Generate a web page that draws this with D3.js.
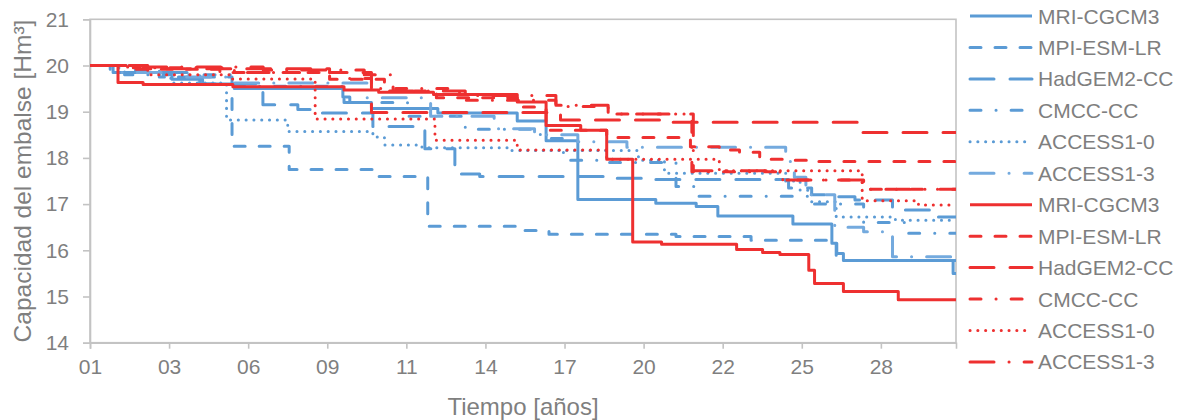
<!DOCTYPE html>
<html><head><meta charset="utf-8">
<script src="https://cdn.jsdelivr.net/npm/d3@7"></script>
<style>
body{margin:0;background:#fff}
text{font-family:"Liberation Sans",Arial,Helvetica,sans-serif;fill:#7f7f7f}
</style>
</head><body>
<svg id="chart" width="1199" height="420"></svg>
<script>
// ---- data (years since start, capacity Hm3) ----
const seriesNames = ["MRI-CGCM3","MPI-ESM-LR","HadGEM2-CC","CMCC-CC","ACCESS1-0","ACCESS1-3"];
const xTickLabels = ["01","03","06","09","11","14","17","20","22","25","28"];
const yTickValues = [14,15,16,17,18,19,20,21];
const xTitle = "Tiempo [años]";
const yTitle = "Capacidad del embalse [Hm³]";

const mriBlue = [[0,20],[0.8,19.85],[2.84,19.7],[3.9,19.6],[5.0,19.5],[8.76,19.32],[9.0,19.2],[9.75,19.07],[12.05,18.97],[14.8,18.8],[15.8,18.37],[16.9,17.1],[19.6,17.02],[21.0,16.95],[21.75,16.74],[24.35,16.57],[25.7,16.15],[25.87,15.93],[26.1,15.78],[29.9,15.5]];
const mpiBlue = [[0,20],[1.4,19.9],[2.4,19.75],[4.92,18.25],[6.9,17.75],[9.9,17.6],[11.7,16.52],[14.9,16.43],[15.9,16.35],[20.3,16.3],[22.9,16.22],[25.85,15.78]];
const hadBlue = [[0,20],[0.7,19.85],[3.8,19.6],[5.99,19.15],[7.2,19.05],[7.69,18.97],[9.8,18.68],[11.6,18.2],[12.64,17.65],[13.5,17.6],[18.0,17.56],[19.4,17.53],[24.2,17.35],[25.0,17.2],[25.7,17.16],[26.5,17.09],[27.8,16.87],[29.1,16.72]];
const cmccBlue = [[0,20],[1.2,19.8],[5.0,19.55],[8.8,19.2],[11.0,18.9],[13.0,18.62],[15.6,18.42],[16.4,17.95],[18.0,17.9],[20.3,17.38],[21.0,17.17],[25.0,17.0],[26.8,16.6],[28.3,16.37]];
const acc0Blue = [[0,20],[1.0,19.85],[2.8,19.62],[4.73,18.82],[6.85,18.57],[9.8,18.45],[10.2,18.28],[11.5,18.22],[14.5,18.16],[19.0,17.95],[19.9,17.67],[24.1,17.5],[24.6,17.3],[25.0,17.05],[25.85,16.72],[27.9,16.65]];
const acc3Blue = [[0,20],[1.0,19.85],[2.9,19.75],[4.9,19.62],[9.6,19.3],[11.8,18.9],[14.0,18.63],[15.4,18.5],[16.9,18.35],[18.6,18.23],[24.1,17.92],[24.4,17.58],[24.8,17.2],[25.8,16.5],[26.8,16.4],[27.8,15.86]];

const mriRed = [[0,20],[0.97,19.63],[1.84,19.59],[4.95,19.54],[8.8,19.47],[10.0,19.42],[11.9,19.37],[14.8,19.21],[15.8,18.7],[17.0,18.6],[17.9,17.97],[18.8,16.18],[19.8,16.13],[22.4,16.02],[23.3,15.95],[23.9,15.91],[24.9,15.57],[25.1,15.28],[26.1,15.11],[28.0,14.93]];
const mpiRed = [[0,20],[1.5,19.92],[4.5,19.85],[8.3,19.7],[10.2,19.45],[12.0,19.3],[14.8,19.1],[15.8,18.6],[17.9,18.44],[20.8,18.24],[21.8,18.17],[22.5,18.12],[23.2,17.97],[24.0,17.95],[24.9,17.92]];
const hadRed = [[0,20],[2.0,19.93],[8.3,19.85],[9.75,18.98],[16.3,18.82],[19.9,18.77],[26.6,18.55]];
const cmccRed = [[0,20],[1.5,19.95],[5.0,19.85],[8.7,19.72],[9.75,19.5],[12.8,19.25],[16.14,19.11],[17.95,18.95],[20.85,17.7],[24.0,17.52],[26.75,17.32]];
const acc0Red = [[0,20],[1.6,19.97],[2.0,19.8],[4.9,19.71],[7.8,18.84],[11.95,18.38],[14.8,18.17],[17.9,17.97],[21.8,17.72],[26.75,17.07],[28.7,16.98]];
const acc3Red = [[0,20],[1.3,19.97],[6.0,19.9],[9.5,19.8],[10.5,19.45],[13.0,19.35],[16.14,19.14],[17.95,18.95],[20.9,17.72],[23.9,17.52],[26.8,17.32]];

const blueSeries = [mriBlue, mpiBlue, hadBlue, cmccBlue, acc0Blue, acc3Blue];
const redSeries = [mriRed, mpiRed, hadRed, cmccRed, acc0Red, acc3Red];

// ---- styles ----
const dashes = [null, "11,14", "24,16", "11,15,0.1,15", "0.1,7.7", "24,15,0.1,15"];
const blueColors = ["#5b9bd5","#5b9bd5","#5b9bd5","#5b9bd5","#5b9bd5","#74aade"];
const redColor = "#ee3030";

const svg = d3.select("#chart");
const x = d3.scaleLinear().domain([0, 30]).range([90, 956]);
const y = d3.scaleLinear().domain([14, 21]).range([342.7, 19.3]);
const axisColor = "#c3c3c3";
const fontFam = '"Liberation Sans",Arial,sans-serif';

// plot border
svg.append("rect").attr("x", x(0)).attr("y", y(21)).attr("width", x(30)-x(0)).attr("height", y(14)-y(21))
  .attr("fill","none").attr("stroke", axisColor).attr("stroke-width", 1.6);

// x axis
const xTickVals = xTickLabels.map((d,i) => i*1000/365);
const xAxis = d3.axisBottom(x).tickValues(xTickVals).tickFormat((d,i)=>xTickLabels[i]).tickSize(6).tickPadding(10);
const gx = svg.append("g").attr("transform", `translate(0,${y(14)})`).call(xAxis);
gx.select(".domain").attr("stroke", axisColor).attr("stroke-width",1.6);
gx.selectAll(".tick line").attr("stroke", axisColor).attr("stroke-width",1.6);
gx.selectAll(".tick text").style("font-size","21px").attr("fill","#7f7f7f").style("font-family",fontFam);

// y axis
const yAxis = d3.axisLeft(y).tickValues(yTickValues).tickFormat(d3.format("d")).tickSize(7).tickPadding(14);
const gy = svg.append("g").attr("transform", `translate(${x(0)},0)`).call(yAxis);
gy.select(".domain").attr("stroke", axisColor).attr("stroke-width",1.6);
gy.selectAll(".tick line").attr("stroke", axisColor).attr("stroke-width",1.6);
gy.selectAll(".tick text").style("font-size","21px").attr("fill","#7f7f7f").style("font-family",fontFam);

// titles
svg.append("text").attr("x", (x(0)+x(30))/2).attr("y", 415).attr("text-anchor","middle")
  .style("font-size","24px").text(xTitle);
svg.append("text").attr("transform", `translate(31,${(y(14)+y(21))/2}) rotate(-90)`).attr("text-anchor","middle")
  .style("font-size","24.5px").text(yTitle);

// clip
svg.append("clipPath").attr("id","clip").append("rect")
  .attr("x", x(0)).attr("y", y(21)).attr("width", x(30)-x(0)).attr("height", y(14)-y(21));

const line = d3.line().x(d=>x(d[0])).y(d=>y(d[1])).curve(d3.curveStepAfter);
const extend = s => s.concat([[30, s[s.length-1][1]]]);

const gLines = svg.append("g").attr("clip-path","url(#clip)");
function drawSeries(data, color, dash){
  gLines.append("path").datum(extend(data)).attr("d", line)
    .attr("fill","none").attr("stroke", color).attr("stroke-width", 3)
    .attr("stroke-linecap", dash ? "round" : "butt").attr("stroke-linejoin","round")
    .attr("stroke-dasharray", dash);
}
blueSeries.forEach((s,i)=>drawSeries(s, blueColors[i], dashes[i]));
redSeries.forEach((s,i)=>drawSeries(s, redColor, dashes[i]));

// legend
const legend = svg.append("g");
const rows = [];
seriesNames.forEach((n,i)=>rows.push({name:n, color: blueColors[i], dash: dashes[i]}));
seriesNames.forEach((n,i)=>rows.push({name:n, color: redColor, dash: dashes[i]}));
const lx1 = 970, lx2 = 1032, tx = 1038;
rows.forEach((r,i)=>{
  const cy = 16 + i*31.45;
  legend.append("line").attr("x1", lx1).attr("x2", lx2).attr("y1", cy).attr("y2", cy)
    .attr("stroke", r.color).attr("stroke-width", 3)
    .attr("stroke-linecap", r.dash ? "round" : "butt").attr("stroke-dasharray", r.dash);
  legend.append("text").attr("x", tx).attr("y", cy + 7.5).style("font-size","21px").text(r.name);
});
</script>
</body></html>
